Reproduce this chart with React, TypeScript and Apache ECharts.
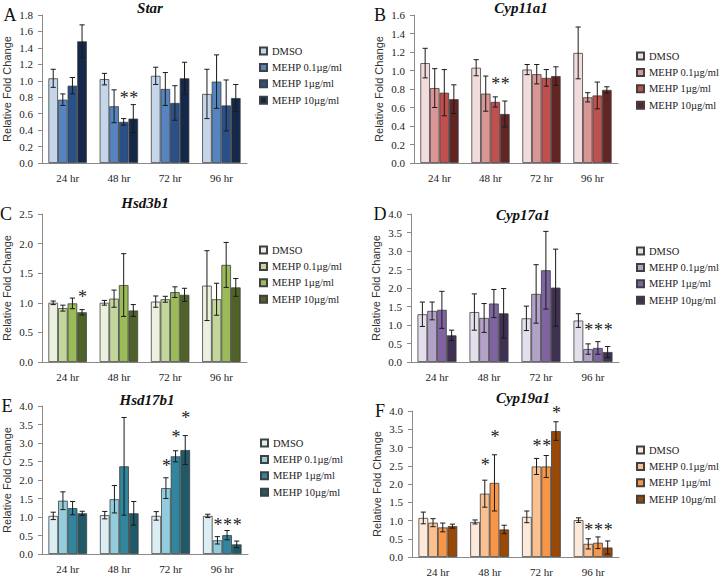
import React, { useEffect, useRef } from "react";
import * as echarts from "echarts";

const categories = ["24 hr", "48 hr", "72 hr", "96 hr"];
const doses = ["DMSO", "MEHP 0.1µg/ml", "MEHP 1µg/ml", "MEHP 10µg/ml"];
const genes = ["Star", "Cyp11a1", "Hsd3b1", "Cyp17a1", "Hsd17b1", "Cyp19a1"];
const letters = ["A", "B", "C", "D", "E", "F"];
const yMax = [1.8, 1.6, 2.5, 4.0, 4.0, 4.0];
const yStep = [0.2, 0.2, 0.5, 0.5, 0.5, 0.5];

// rows = dose (DMSO, 0.1, 1, 10), cols = time (24, 48, 72, 96 hr)
const starMean = [
  [1.03, 1.02, 1.06, 0.84],
  [0.77, 0.69, 0.9, 0.99],
  [0.94, 0.5, 0.73, 0.7],
  [1.48, 0.54, 1.03, 0.79],
];
const starErr = [
  [0.11, 0.07, 0.105, 0.3],
  [0.07, 0.2, 0.2, 0.325],
  [0.1, 0.04, 0.21, 0.31],
  [0.2, 0.17, 0.195, 0.165],
];
const cyp11Mean = [
  [1.08, 1.03, 1.01, 1.19],
  [0.81, 0.75, 0.96, 0.71],
  [0.76, 0.66, 0.92, 0.73],
  [0.69, 0.53, 0.94, 0.79],
];
const cyp11Err = [
  [0.16, 0.087, 0.055, 0.28],
  [0.21, 0.19, 0.105, 0.05],
  [0.25, 0.055, 0.09, 0.145],
  [0.155, 0.14, 0.1, 0.034],
];
const hsd3Mean = [
  [1.0, 1.0, 1.02, 1.29],
  [0.91, 1.07, 1.06, 1.06],
  [0.99, 1.3, 1.18, 1.64],
  [0.84, 0.87, 1.135, 1.26],
];
const hsd3Err = [
  [0.03, 0.04, 0.095, 0.59],
  [0.05, 0.145, 0.05, 0.27],
  [0.09, 0.53, 0.09, 0.38],
  [0.045, 0.1, 0.11, 0.15],
];
const cyp17Mean = [
  [1.29, 1.35, 1.18, 1.12],
  [1.38, 1.19, 1.84, 0.35],
  [1.41, 1.58, 2.48, 0.38],
  [0.72, 1.315, 2.01, 0.27],
];
const cyp17Err = [
  [0.33, 0.49, 0.33, 0.185],
  [0.24, 0.39, 0.79, 0.14],
  [0.5, 0.38, 1.05, 0.17],
  [0.14, 0.67, 1.04, 0.15],
];
const hsd17Mean = [
  [1.03, 1.05, 1.03, 1.03],
  [1.44, 1.48, 1.78, 0.37],
  [1.24, 2.37, 2.64, 0.51],
  [1.1, 1.1, 2.81, 0.26],
];
const hsd17Err = [
  [0.1, 0.1, 0.115, 0.045],
  [0.24, 0.37, 0.28, 0.1],
  [0.18, 1.32, 0.15, 0.125],
  [0.055, 0.32, 0.39, 0.09],
];
const cyp19Mean = [
  [1.07, 0.96, 1.1, 1.01],
  [0.94, 1.735, 2.48, 0.36],
  [0.81, 2.03, 2.48, 0.39],
  [0.845, 0.755, 3.45, 0.26],
];
const cyp19Err = [
  [0.16, 0.055, 0.16, 0.063],
  [0.11, 0.37, 0.22, 0.14],
  [0.12, 0.77, 0.3, 0.16],
  [0.055, 0.115, 0.255, 0.18],
];

// significance marks: [time index, dose index, y position]
const starSig = [[1, 2, 0.835], [1, 3, 0.835]];
const cyp11Sig = [[1, 2, 0.9], [1, 3, 0.9]];
const hsd3Sig = [[0, 3, 1.16]];
const cyp17Sig = [[3, 1, 0.96], [3, 2, 0.96], [3, 3, 0.96]];
const hsd17Sig = [[2, 1, 2.49], [2, 2, 3.26], [2, 3, 3.79], [3, 1, 0.88], [3, 2, 0.88], [3, 3, 0.88]];
const cyp19Sig = [[1, 1, 2.64], [1, 2, 3.39], [2, 1, 3.16], [2, 2, 3.16], [2, 3, 4.06], [3, 1, 0.854], [3, 2, 0.854], [3, 3, 0.854]];

const means = [starMean, cyp11Mean, hsd3Mean, cyp17Mean, hsd17Mean, cyp19Mean];
const errs = [starErr, cyp11Err, hsd3Err, cyp17Err, hsd17Err, cyp19Err];
const sigs = [starSig, cyp11Sig, hsd3Sig, cyp17Sig, hsd17Sig, cyp19Sig];

const palettes = [
  ["#c6d6ea", "#5584c0", "#2a5088", "#14284a"],
  ["#f2dcdb", "#d99694", "#c0504d", "#632523"],
  ["#ebf1de", "#c3d69b", "#9bbb59", "#4f6228"],
  ["#e4dfec", "#b3a2c7", "#8064a2", "#3f3151"],
  ["#dbeef4", "#93cddd", "#31859c", "#215968"],
  ["#fde9d9", "#fac090", "#f79646", "#984807"],
];

const grids = [
  { left: 42, top: 15, width: 205, height: 148 },
  { left: 414, top: 15, width: 204, height: 148 },
  { left: 42, top: 214, width: 205, height: 148 },
  { left: 411, top: 214, width: 208, height: 148 },
  { left: 42, top: 406, width: 206, height: 148 },
  { left: 412, top: 411, width: 207, height: 148 },
];
const legendPos = [
  { left: 259, top: 44 },
  { left: 636, top: 49 },
  { left: 259, top: 243 },
  { left: 636, top: 244 },
  { left: 260, top: 436 },
  { left: 636, top: 443 },
];
const titlePos = [
  [150, 8], [521, 8], [145, 203], [523, 215], [147, 400], [523, 398],
];
const letterPos = [
  [10, 15], [380, 15], [6, 214], [380, 214], [7, 406], [380, 411],
];

const SERIF = "'Liberation Serif', 'Times New Roman', serif";
const SANS = "'Liberation Sans', Arial, sans-serif";

const barX = (api: any, cat: number, bi: number, v: number) => {
  const band = api.size([1, 0])[0];
  const bw = (band * 0.75) / 4;
  const c = api.coord([cat, v]);
  return c[0] - band * 0.375 + bw * (bi + 0.5);
};

const errRender = (params: any, api: any) => {
  const cat = api.value(0);
  const bi = api.value(1);
  const v = api.value(2);
  const e = api.value(3);
  const x = barX(api, cat, bi, v);
  const yT = api.coord([cat, v + e])[1];
  const yB = api.coord([cat, v - e])[1];
  const cap = 2.6;
  const st = { stroke: "#1a1a1a", lineWidth: 1 };
  return {
    type: "group",
    children: [
      { type: "line", shape: { x1: x, y1: yT, x2: x, y2: yB }, style: st },
      { type: "line", shape: { x1: x - cap, y1: yT, x2: x + cap, y2: yT }, style: st },
      { type: "line", shape: { x1: x - cap, y1: yB, x2: x + cap, y2: yB }, style: st },
    ],
  };
};

const sigRender = (params: any, api: any) => {
  const cat = api.value(0);
  const bi = api.value(1);
  const v = api.value(2);
  const x = barX(api, cat, bi, v);
  const y = api.coord([cat, v])[1];
  return {
    type: "text",
    x: x + 0.5,
    y: y + 4,
    style: {
      text: "*",
      font: "18px " + SERIF,
      fill: "#222",
      align: "center",
      verticalAlign: "middle",
    },
  };
};

export default function App() {
  const ref = useRef<HTMLDivElement>(null);
  useEffect(() => {
    if (!ref.current) return;
    const chart = echarts.init(ref.current, null, { renderer: "svg" });
    const series: any[] = [];
    genes.forEach((g, k) => {
      doses.forEach((d, i) => {
        series.push({
          type: "bar",
          name: d + " " + letters[k],
          xAxisIndex: k,
          yAxisIndex: k,
          barGap: "0%",
          barCategoryGap: "25%",
          itemStyle: { color: palettes[k][i], borderColor: "#404040", borderWidth: 0.8 },
          data: means[k][i],
          silent: true,
        });
      });
      const eData: number[][] = [];
      means[k].forEach((row, i) =>
        row.forEach((v, c) => eData.push([c, i, v, errs[k][i][c]]))
      );
      series.push({
        type: "custom",
        xAxisIndex: k,
        yAxisIndex: k,
        renderItem: errRender,
        encode: { x: 0, y: 2 },
        data: eData,
        silent: true,
        clip: false,
        z: 5,
      });
      series.push({
        type: "custom",
        xAxisIndex: k,
        yAxisIndex: k,
        renderItem: sigRender,
        encode: { x: 0, y: 2 },
        data: sigs[k],
        silent: true,
        clip: false,
        z: 6,
      });
    });

    const graphic: any[] = [];
    genes.forEach((g, k) => {
      graphic.push({
        type: "text",
        x: titlePos[k][0],
        y: titlePos[k][1],
        style: {
          text: g,
          font: "italic bold 15px " + SERIF,
          fill: "#111",
          align: "center",
          verticalAlign: "middle",
        },
      });
      graphic.push({
        type: "text",
        x: letterPos[k][0],
        y: letterPos[k][1],
        style: {
          text: letters[k],
          font: "18px " + SERIF,
          fill: "#111",
          align: "center",
          verticalAlign: "middle",
        },
      });
    });

    chart.setOption({
      animation: false,
      grid: grids.map((g) => ({ ...g, containLabel: false })),
      xAxis: grids.map((g, k) => ({
        type: "category",
        gridIndex: k,
        data: categories,
        axisLine: { lineStyle: { color: "#8a8a8a", width: 1 } },
        axisTick: { show: false },
        axisLabel: { fontFamily: SERIF, fontSize: 11, color: "#222", margin: 9 },
      })),
      yAxis: grids.map((g, k) => ({
        type: "value",
        gridIndex: k,
        min: 0,
        max: yMax[k],
        interval: yStep[k],
        name: "Relative Fold Change",
        nameLocation: "middle",
        nameGap: 30,
        nameTextStyle: { fontFamily: SANS, fontSize: 11, color: "#333" },
        axisLine: { show: true, lineStyle: { color: "#8a8a8a", width: 1 } },
        axisTick: { show: true, length: 4, lineStyle: { color: "#8a8a8a" } },
        splitLine: { show: false },
        axisLabel: {
          fontFamily: SERIF,
          fontSize: 11,
          color: "#222",
          margin: 9,
          formatter: (v: number) => v.toFixed(1),
        },
      })),
      legend: genes.map((g, k) => ({
        orient: "vertical",
        left: legendPos[k].left,
        top: legendPos[k].top,
        itemWidth: 7,
        itemHeight: 7,
        itemGap: 2.4,
        icon: "rect",
        selectedMode: false,
        padding: 0,
        data: doses.map((d) => d + " " + letters[k]),
        formatter: (n: string) => n.slice(0, -2),
        textStyle: { fontFamily: SERIF, fontSize: 10.5, color: "#222", lineHeight: 14 },
      })),
      graphic,
      series,
    });
    return () => chart.dispose();
  }, []);
  return (
    <div
      ref={ref}
      style={{ position: "absolute", left: 0, top: 0, width: 722, height: 577, background: "#fff" }}
    />
  );
}
